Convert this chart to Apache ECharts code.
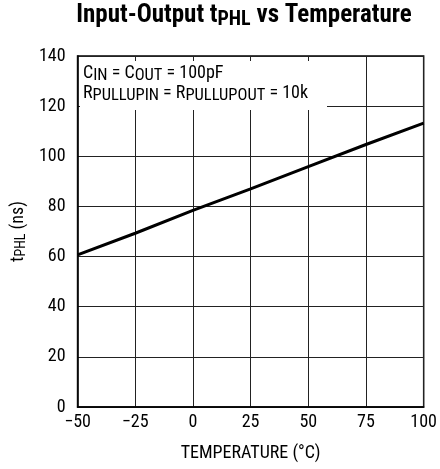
<!DOCTYPE html>
<html>
<head>
<meta charset="utf-8">
<script src="https://cdn.jsdelivr.net/npm/echarts@6/dist/echarts.min.js"></script>
<style>
html,body{margin:0;padding:0;background:#fff;}
#c{width:440px;height:469px;}
</style>
</head>
<body>
<div id="c"></div>
<script>
// Data
const temperatures = [-50, -25, 0, 25, 50, 75, 100];
const tphlValues = [60.7, 69.3, 78.4, 87.0, 95.9, 104.7, 113.2];
const xTicks = [-50, -25, 0, 25, 50, 75, 100];
const yTicks = [0, 20, 40, 60, 80, 100, 120, 140];

const FONT = '"Roboto Condensed", "Liberation Sans", sans-serif';

const chart = echarts.init(document.getElementById('c'), null, {renderer: 'canvas'});

const seriesData = temperatures.map((t, i) => [t, tphlValues[i]]);

const noteRich = {
  n: {fontSize: 18, fontFamily: FONT, fill: '#000', lineHeight: 14},
  s: {fontSize: 16.5, fontFamily: FONT, fill: '#000', lineHeight: 14, padding: [6, 0, 0, 0]}
};

const option = {
  backgroundColor: '#fff',
  animation: false,
  grid: {
    left: 75, right: 13.5, top: 56, bottom: 62,
    show: true, borderColor: '#000', borderWidth: 1.5, backgroundColor: 'transparent'
  },
  xAxis: {
    type: 'value',
    min: xTicks[0], max: xTicks[xTicks.length - 1], interval: 25,
    axisLine: {show: true, onZero: false, lineStyle: {color: '#000', width: 1.5}},
    axisTick: {show: false},
    splitLine: {show: true, lineStyle: {color: '#222', width: 1}},
    axisLabel: {
      color: '#000', fontSize: 18, fontFamily: FONT, margin: 6,
      formatter: v => String(v).replace('-', '\u2212')
    },
    name: 'TEMPERATURE (°C)',
    nameLocation: 'middle', nameGap: 37,
    nameTextStyle: {color: '#000', fontSize: 18, fontFamily: FONT}
  },
  yAxis: {
    type: 'value',
    min: yTicks[0], max: yTicks[yTicks.length - 1], interval: 20,
    axisLine: {show: true, onZero: false, lineStyle: {color: '#000', width: 1.5}},
    axisTick: {show: false},
    splitLine: {show: true, lineStyle: {color: '#222', width: 1}},
    axisLabel: {color: '#000', fontSize: 18, fontFamily: FONT, margin: 12},
    name: '{n|t}{s|PHL}{n| (ns)}',
    nameLocation: 'middle', nameGap: 39, nameRotate: 90,
    nameTextStyle: {
      color: '#000', fontFamily: FONT,
      rich: {
        n: {fontSize: 18, fontFamily: FONT, color: '#000', lineHeight: 14},
        s: {fontSize: 14, fontFamily: FONT, color: '#000', lineHeight: 14, padding: [6, 0, 0, 0]}
      }
    }
  },
  series: [{
    type: 'line',
    data: seriesData,
    symbol: 'none',
    lineStyle: {color: '#000', width: 3},
    z: 3
  }],
  graphic: [
    {
      type: 'rect', z: 100,
      shape: {x: 80, y: 61, width: 247, height: 49},
      style: {fill: '#fff'}
    },
    {
      type: 'text', z: 101,
      x: 83, y: 66,
      style: {
        text: '{n|C}{s|IN}{n| = C}{s|OUT}{n| = 100pF}',
        fill: '#000', font: '18px ' + FONT, rich: noteRich
      }
    },
    {
      type: 'text', z: 101,
      x: 83, y: 86,
      style: {
        text: '{n|R}{s|PULLUPIN}{n| = R}{s|PULLUPOUT}{n| = 10k}',
        fill: '#000', font: '18px ' + FONT, rich: noteRich
      }
    },
    {
      type: 'text', z: 101,
      x: 244, y: 5,
      style: {
        text: '{n|Input-Output t}{s|PHL}{n| vs Temperature}',
        align: 'center',
        fill: '#000',
        font: 'bold 25px ' + FONT,
        rich: {
          n: {fontSize: 25, fontWeight: 'bold', fontFamily: FONT, fill: '#000', lineHeight: 21},
          s: {fontSize: 20, fontWeight: 'bold', fontFamily: FONT, fill: '#000', lineHeight: 21, padding: [8, 0, 0, 0]}
        }
      }
    }
  ]
};
chart.setOption(option);
</script>
</body>
</html>
